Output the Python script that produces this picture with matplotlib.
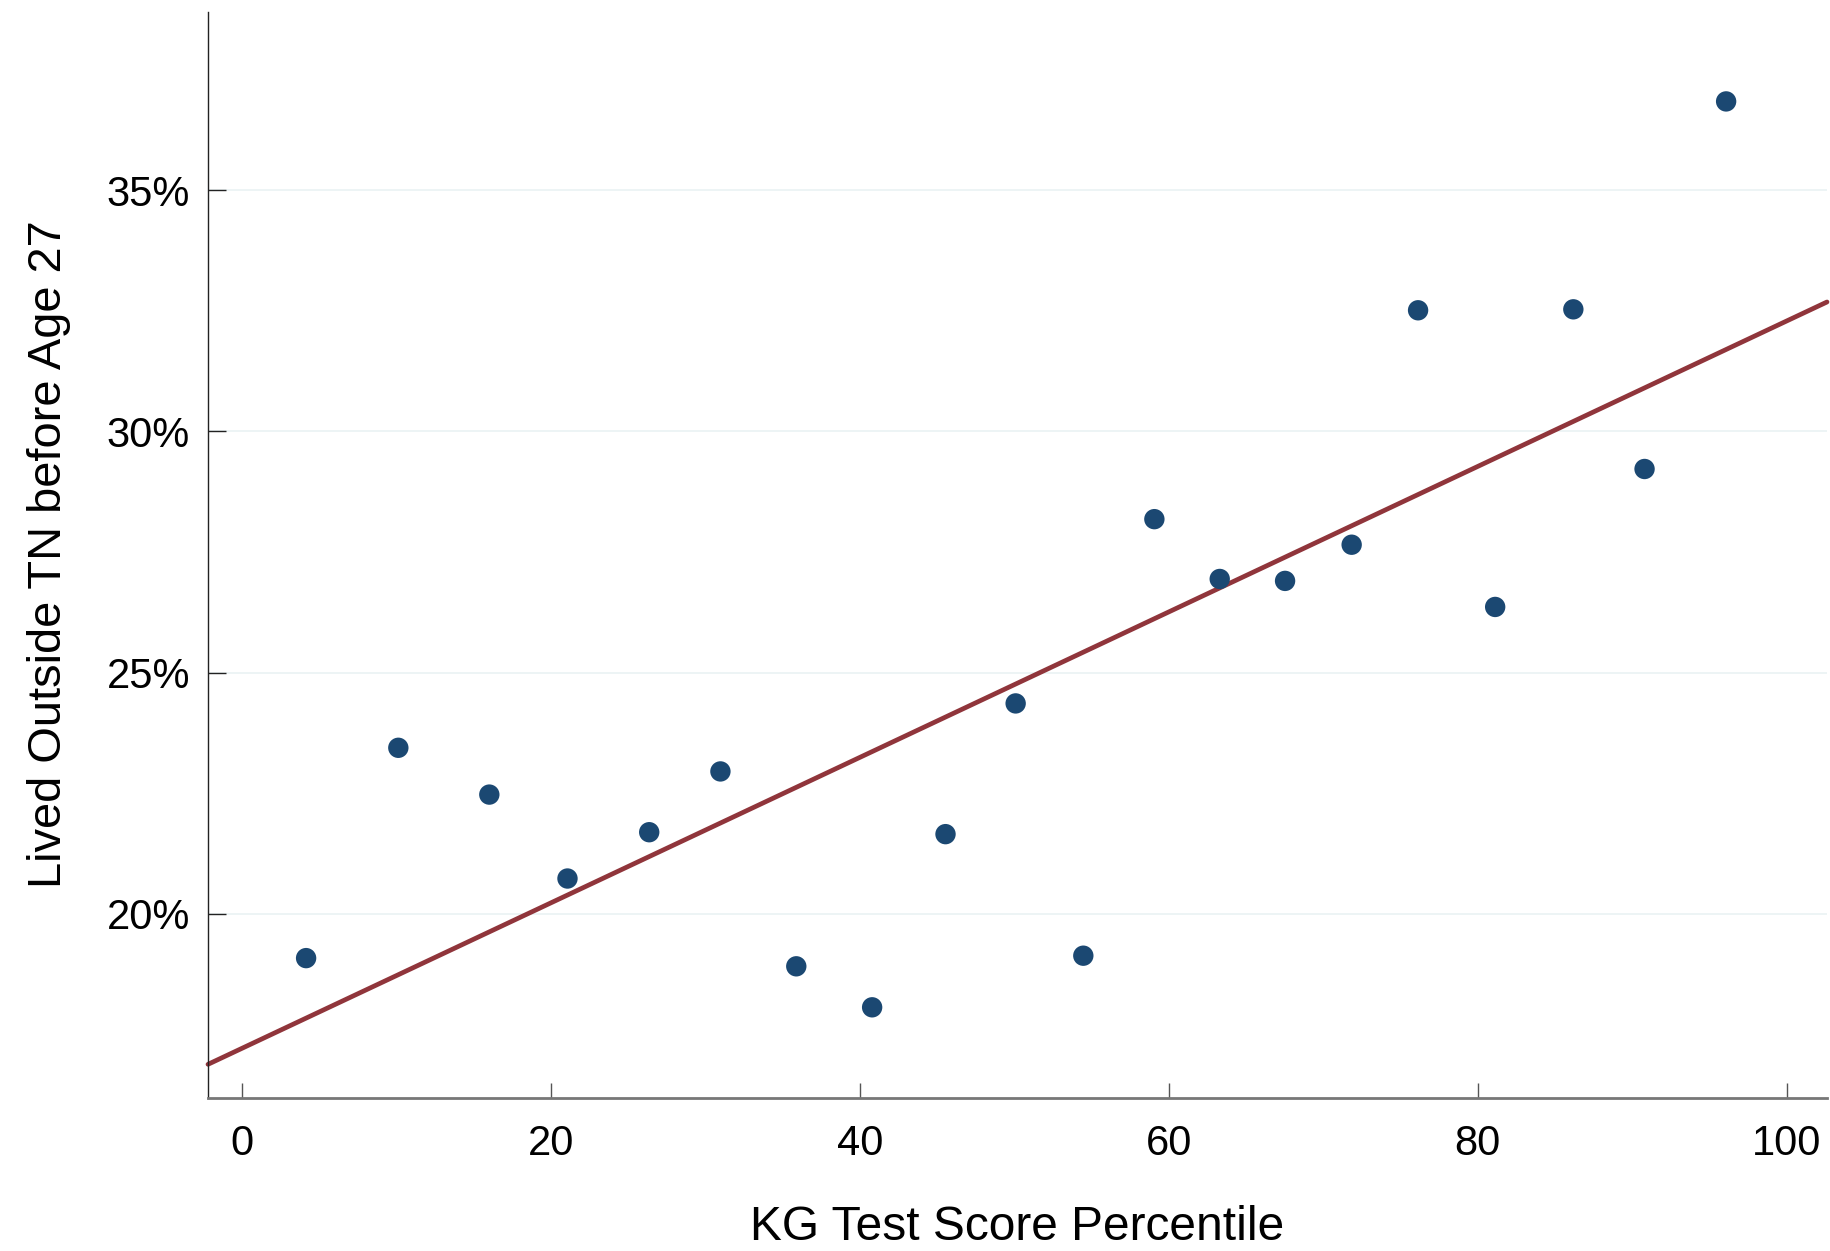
import matplotlib
matplotlib.use("Agg")
import matplotlib.pyplot as plt
import numpy as np

# Data
percentile = [4.15, 10.12, 16.01, 21.07, 26.36, 30.97, 35.88, 40.79, 45.54, 50.08,
              54.46, 59.06, 63.29, 67.52, 71.83, 76.13, 81.12, 86.18, 90.79, 96.07]
lived_outside = [19.08, 23.44, 22.47, 20.73, 21.69, 22.95, 18.91, 18.06, 21.65, 24.36,
                 19.13, 28.18, 26.94, 26.90, 27.65, 32.51, 26.36, 32.53, 29.22, 36.84]
fit_intercept = 17.21
fit_slope = 0.1508
x_ticks = [0, 20, 40, 60, 80, 100]
y_ticks = [20, 25, 30, 35]
y_tick_labels = ["20%", "25%", "30%", "35%"]

plt.rcParams['font.family'] = ['Liberation Sans', 'DejaVu Sans']

W, H = 1830, 1251
fig = plt.figure(figsize=(W / 100, H / 100), dpi=100)
ax = fig.add_axes([208 / W, 1 - 1098 / H, (1827 - 208) / W, (1098 - 11.7) / H])

xlim = (-2.2, 102.6)
ylim = (16.18, 38.7)
ax.set_xlim(*xlim)
ax.set_ylim(*ylim)

for yt in y_ticks:
    ax.axhline(yt, color='#eaf2f3', lw=1.2, zorder=0)

xs = np.array(xlim)
ax.plot(xs, fit_intercept + fit_slope * xs, color='#90353b', lw=3.4,
        solid_capstyle='round', zorder=2, clip_on=False)
ax.scatter(percentile, lived_outside, s=215, color='#1b4872', edgecolors='none', zorder=3)

ax.set_xticks(x_ticks)
ax.set_xticklabels([str(v) for v in x_ticks])
ax.set_yticks(y_ticks)
ax.set_yticklabels(y_tick_labels)

ax.tick_params(axis='x', direction='in', length=11, width=1.0, color='#555555',
               labelsize=30, pad=19)
ax.tick_params(axis='y', direction='in', length=13, width=1.0, color='#222222',
               labelsize=30, pad=13)

for side in ['top', 'right']:
    ax.spines[side].set_visible(False)
ax.spines['left'].set_color('#222222')
ax.spines['left'].set_linewidth(1.0)
ax.spines['bottom'].set_color('#777777')
ax.spines['bottom'].set_linewidth(2.0)

fig.text(1017 / W, 1 - 1227 / H, "KG Test Score Percentile", fontsize=34.5,
         ha='center', va='center')
fig.text(49 / W, 1 - 554 / H, "Lived Outside TN before Age 27", fontsize=33.8,
         ha='center', va='center', rotation=90)

fig.savefig("out.png", dpi=100, facecolor='white')
